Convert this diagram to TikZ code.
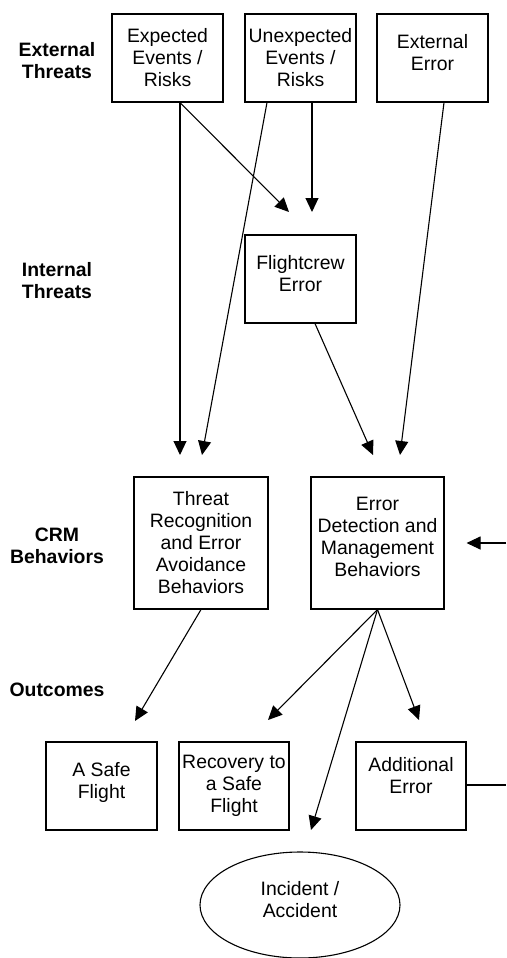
\documentclass[tikz,border=0pt]{standalone}
\usepackage{fontspec}
\setmainfont{Liberation Sans}
\usetikzlibrary{arrows.meta,shapes.geometric}
\newcommand{\liftup}{\\[-10pt]\mbox{}}

\begin{document}
\begin{tikzpicture}[x=1pt,y=-1pt,
    box/.style={draw,line width=1.1pt,minimum width=111pt,minimum height=88pt,inner sep=0pt,align=center,font=\fontsize{19.4}{22}\selectfont},
    tier/.style={align=center,font=\fontsize{19.4}{22}\selectfont\bfseries},
    arr/.style={line width=1.1pt,-{Triangle[length=14pt,width=13pt]}}]
      \useasboundingbox (0,0) rectangle (506,958);
      \node[tier] (exthr) at (57,61) {External\\Threats};
      \node[tier] (inthr) at (57,281) {Internal\\Threats};
      \node[tier] (crm) at (57,546) {CRM\\Behaviors};
      \node[tier] (outc) at (57,690) {Outcomes};
      \node[box] (exp) at (167.5,58) {Expected\\Events /\\Risks};
      \node[box] (unexp) at (300.5,58) {Unexpected\\Events /\\Risks};
      \node[box] (exterr) at (432.5,58) {External\\Error\liftup};
      \node[box] (crew) at (300.5,279) {Flightcrew\\Error\liftup};
      \node[box,minimum width=134pt,minimum height=132pt] (threat) at (201,543) {Threat\\Recognition\\and Error\\Avoidance\\Behaviors};
      \node[box,minimum width=133pt,minimum height=132pt] (det) at (377.5,543) {Error\\Detection and\\Management\\Behaviors\liftup};
      \node[box] (safe) at (101.5,786) {A Safe\\Flight\liftup};
      \node[box,minimum width=110pt] (recov) at (234,786) {Recovery to\\a Safe\\Flight};
      \node[box,minimum width=110pt] (add) at (411,786) {Additional\\Error\\\mbox{}};
      \node[box,ellipse,minimum width=200pt,minimum height=106pt] (incid) at (300,905) {Incident /\\Accident\liftup};
      \coordinate (tthr1) at (180,455);
      \coordinate (tthr2) at (202,455);
      \coordinate (tdet1) at (373,455);
      \coordinate (tdet2) at (400,455);
      \coordinate (tcrew1) at (289,212);
      \coordinate (tcrew2) at (312,212);
      \coordinate (tsafe) at (135,721);
      \coordinate (trecov) at (268,720);
      \coordinate (tincid) at (311,830);
      \coordinate (tadd) at (419,720);
      \coordinate (edge1) at (506,543);
      \coordinate (edge2) at (506,785);
      \draw[arr] ([xshift=12.5pt]exp.south) -- (tthr1);
      \draw[arr] ([xshift=12.5pt]exp.south) -- (tcrew1);
      \draw[arr] ([xshift=11.5pt]unexp.south) -- (tcrew2);
      \draw[arr] ([xshift=-33.5pt]unexp.south) -- (tthr2);
      \draw[arr] ([xshift=11.5pt]exterr.south) -- (tdet2);
      \draw[arr] ([xshift=14.5pt]crew.south) -- (tdet1);
      \draw[arr] (edge1) -- ([xshift=22pt]det.east);
      \draw[arr] (threat.south) -- (tsafe);
      \draw[arr] (det.south) -- (trecov);
      \draw[arr] (det.south) -- (tincid);
      \draw[arr] (det.south) -- (tadd);
      \draw[line width=1.1pt] (add.east |- edge2) -- (edge2);
    \end{tikzpicture}
\end{document}
